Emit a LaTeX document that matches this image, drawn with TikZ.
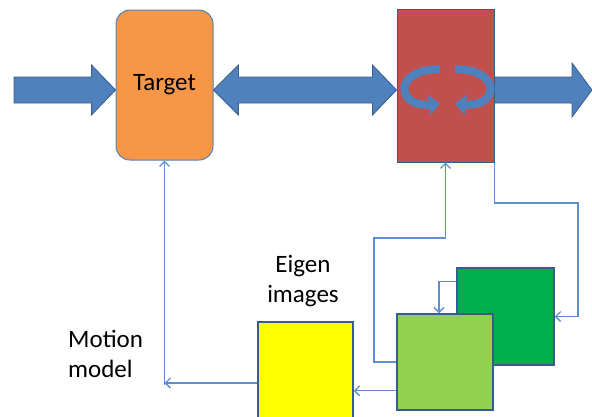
\documentclass[tikz,border=0pt]{standalone}
\usepackage{fontspec}
\setmainfont{Carlito}
\usetikzlibrary{arrows.meta,bending,calc}
\definecolor{ppblue}{HTML}{4F81BD}
\definecolor{ppdark}{HTML}{385D8A}
\definecolor{pporange}{HTML}{F79646}
\definecolor{ppred}{HTML}{C0504D}
\definecolor{ppgreen}{HTML}{00B050}
\definecolor{pplime}{HTML}{92D050}
\definecolor{ppyellow}{HTML}{FFFF00}
\definecolor{ppline}{HTML}{5B8FD0}
\begin{document}
\begin{tikzpicture}[x=1pt,y=-1pt,
  block/.style={draw=ppdark, line width=1.5pt, inner sep=0pt, minimum width=#1, minimum height=#1},
  fat/.style={fill=ppblue, draw=ppdark, line width=0.8pt, line join=miter},
  conn/.style={draw=ppline, line width=1.3pt, -{Straight Barb[length=5pt,width=10pt]}},
  curl/.style={draw=ppblue, line width=8pt, -{Triangle[length=11pt,width=20pt,flex]}},
  lbl/.style={font=\fontsize{25}{30}\selectfont, text=black, inner sep=0pt}]
\useasboundingbox (0,0) rectangle (592,416);
\clip (0,0) rectangle (592,416);

% main blocks
\node[draw=ppblue, line width=1pt, fill=pporange, rounded corners=14pt,
      minimum width=97pt, minimum height=150pt, inner sep=0pt,
      font=\fontsize{25}{30}\selectfont] (target) at (164.5,85) {Target};
\node[draw=ppdark, line width=1pt, fill=ppred, minimum width=97pt,
      minimum height=153pt, inner sep=0pt] (rot) at (445.5,85.5) {};

% level of the wide arrows
\coordinate (inL) at (14,90);
\coordinate (outR) at (592,90);
\coordinate (tipL) at (target.west |- inL);
\coordinate (tipA) at (target.east |- inL);
\coordinate (tipB) at (rot.west |- inL);
\coordinate (baseR) at (rot.east |- inL);

% input arrow
\draw[fat] ($(inL)+(0,-13)$) -- ($(tipL)+(-24,-13)$) -- ($(tipL)+(-24,-25)$)
  -- (tipL) -- ($(tipL)+(-24,25)$) -- ($(tipL)+(-24,13)$) -- ($(inL)+(0,13)$) -- cycle;
% two-way arrow
\draw[fat] (tipA) -- ($(tipA)+(25,-25)$) -- ($(tipA)+(25,-13)$) -- ($(tipB)+(-24,-13)$)
  -- ($(tipB)+(-24,-25)$) -- (tipB) -- ($(tipB)+(-24,25)$) -- ($(tipB)+(-24,13)$)
  -- ($(tipA)+(25,13)$) -- ($(tipA)+(25,25)$) -- cycle;
% output arrow
\draw[fat] ($(baseR)+(0,-13)$) -- ($(outR)+(-20,-13)$) -- ($(outR)+(-20,-27)$)
  -- (outR) -- ($(outR)+(-20,27)$) -- ($(outR)+(-20,13)$) -- ($(baseR)+(0,13)$) -- cycle;

% rotation symbol
\begin{scope}[shift={(447.5,88.5)}]
  \draw[curl] (-7.5,-19.5) .. controls (-28,-19.5) and (-43,-11) .. (-43,0)
    .. controls (-43,12) and (-30,19.5) .. (-7.5,15);
  \draw[curl] (7.5,-19.5) .. controls (28,-19.5) and (43,-11) .. (43,0)
    .. controls (43,12) and (30,19.5) .. (7.5,15);
\end{scope}

% image blocks
\node[block=97pt, fill=ppgreen] (dk) at (505.5,316.5) {};
\node[block=96pt, fill=pplime] (lt) at (445,362) {};
\node[draw=ppdark, line width=1.5pt, fill=ppyellow, minimum width=95pt,
      minimum height=98pt, inner sep=0pt] (eig) at (305.5,371) {};

% labels
\node[lbl, align=center] (eiglbl) at (303,281) {Eigen\\images};
\node[lbl, align=left, anchor=west] (motlbl) at (68,354) {Motion\\model};

% thin connectors
\coordinate (corner) at (target.south |- {(0,383)});
\draw[conn] (eig.west |- corner) -- (corner);
\draw[conn] ([yshift=-2pt]corner) -- (target.south);

\coordinate (p2) at ($(lt.south west)+(0,-20)$);
\draw[conn] (p2) -- (eig.east |- p2);

\coordinate (k1) at (374,238);
\draw[conn] (lt.west) -| (k1) -| (rot.south);

\coordinate (k2) at (578,203);
\draw[conn] (rot.south east) |- (k2) |- (dk.east);

\coordinate (s5) at ($(dk.north west)+(0,14)$);
\draw[conn] (s5) -| ($(lt.north)+(-6,0)$);
\end{tikzpicture}
\end{document}
